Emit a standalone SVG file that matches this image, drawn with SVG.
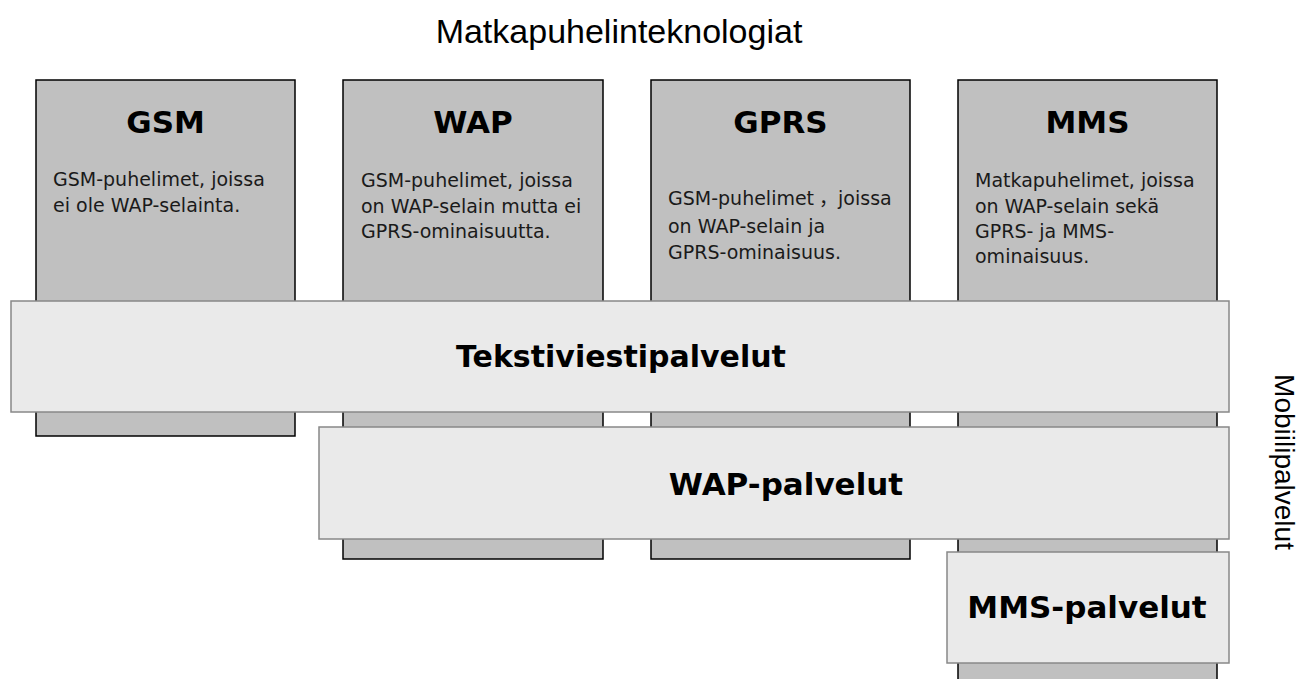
<svg xmlns="http://www.w3.org/2000/svg" width="1314" height="679" viewBox="0 0 1314 679">
<style>
.tech{fill:#c0c0c0;stroke:#000;stroke-width:1.5}
.svc{fill:#eaeaea;stroke:#888;stroke-width:1.5}
.hdr{font-family:"DejaVu Sans",sans-serif;font-weight:bold;font-size:31px;fill:#000;text-anchor:middle}
.svct{font-family:"DejaVu Sans",sans-serif;font-weight:bold;font-size:31px;fill:#000;text-anchor:middle}
.body{font-family:"DejaVu Sans","Noto Sans CJK JP",sans-serif;font-size:19px;fill:#1a1a1a}
.cjk{font-family:"Noto Sans CJK JP",sans-serif}
.lbl{font-family:"Liberation Sans",Arial,sans-serif;font-size:34px;fill:#000;text-anchor:middle}
</style>
<rect width="1314" height="679" fill="#fff"/>
<g id="title"><text class="lbl" x="619" y="43">Matkapuhelinteknologiat</text></g>
<g id="side-label"><text class="lbl" style="font-size:28px" transform="translate(1275,462) rotate(90)" x="0" y="0">Mobiilipalvelut</text></g>
<g id="gsm">
<rect class="tech" x="36" y="80" width="259" height="356"/>
<text class="hdr" x="165.5" y="133">GSM</text>
<text class="body" x="53" y="186">GSM-puhelimet, joissa</text>
<text class="body" x="53" y="212">ei ole WAP-selainta.</text>
</g>
<g id="wap">
<rect class="tech" x="343" y="80" width="260" height="479"/>
<text class="hdr" x="473" y="133">WAP</text>
<text class="body" x="361" y="187">GSM-puhelimet, joissa</text>
<text class="body" x="361" y="213">on WAP-selain mutta ei</text>
<text class="body" x="361" y="238">GPRS-ominaisuutta.</text>
</g>
<g id="gprs">
<rect class="tech" x="651" y="80" width="259" height="479"/>
<text class="hdr" x="780.5" y="133">GPRS</text>
<text class="body" x="668" y="205">GSM-puhelimet<tspan class="cjk" dx="5">，</tspan>joissa</text>
<text class="body" x="668" y="233">on WAP-selain ja</text>
<text class="body" x="668" y="259">GPRS-ominaisuus.</text>
</g>
<g id="mms">
<rect class="tech" x="958" y="80" width="259" height="620"/>
<text class="hdr" x="1087.5" y="133">MMS</text>
<text class="body" x="975" y="187">Matkapuhelimet, joissa</text>
<text class="body" x="975" y="213">on WAP-selain sekä</text>
<text class="body" x="975" y="238">GPRS- ja MMS-</text>
<text class="body" x="975" y="263">ominaisuus.</text>
</g>
<g id="tekstiviestipalvelut">
<rect class="svc" x="11" y="301" width="1218" height="111"/>
<text class="hdr" style="font-size:30px" x="621" y="367">Tekstiviestipalvelut</text>
</g>
<g id="wap-palvelut">
<rect class="svc" x="319" y="427" width="910" height="112"/>
<text class="svct" x="786" y="495">WAP-palvelut</text>
</g>
<g id="mms-palvelut">
<rect class="svc" x="947" y="552" width="282" height="111"/>
<text class="svct" x="1087" y="618">MMS-palvelut</text>
</g>
<g id="connectors"></g>
</svg>
